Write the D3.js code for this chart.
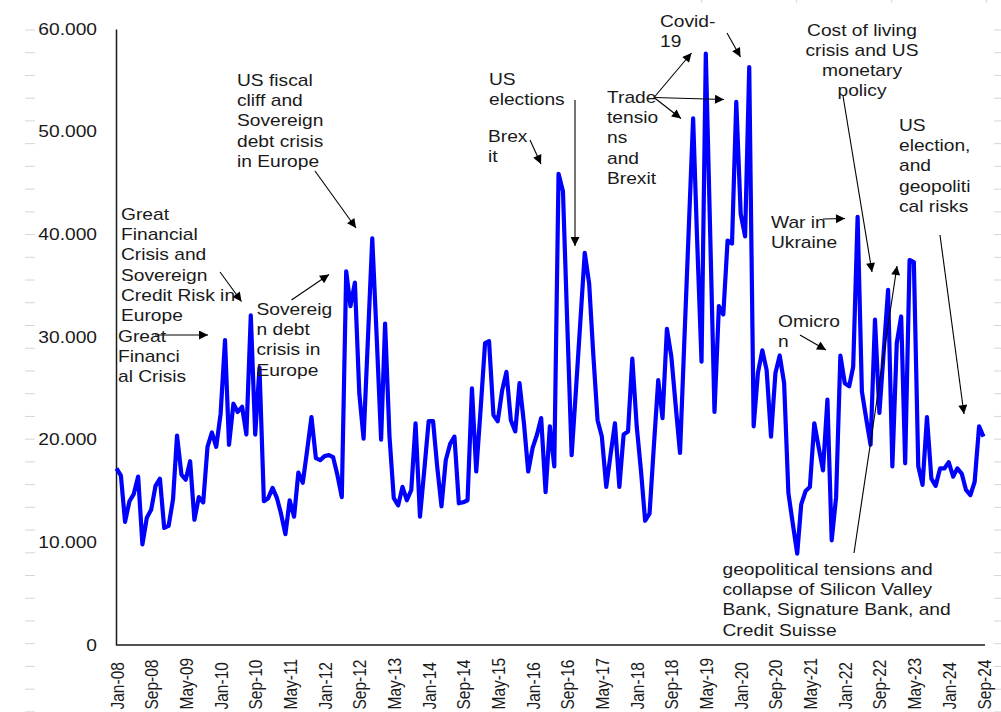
<!DOCTYPE html>
<html>
<head>
<meta charset="utf-8">
<script src="https://cdn.jsdelivr.net/npm/d3@7"></script>
<style>
  html, body { margin: 0; padding: 0; background: #fff; }
  svg { display: block; }
  text { font-family: "Liberation Sans", Arial, sans-serif; fill: #1a1a1a; }
</style>
</head>
<body>
<svg id="chart" width="1001" height="712"></svg>
<script>
// ---------- DATA ----------
const startYear = 2008, startMonth = 0; // Jan-08, monthly
const values = [
  // 2008
  17.2, 16.5, 12.0, 14.0, 14.7, 16.4, 9.8, 12.4, 13.2, 15.5, 16.2, 11.4,
  // 2009
  11.6, 14.2, 20.4, 16.6, 16.1, 17.9, 12.2, 14.4, 13.9, 19.3, 20.7, 19.3,
  // 2010
  22.5, 29.7, 19.5, 23.5, 22.7, 23.2, 20.5, 32.1, 20.5, 27.0, 14.0, 14.3,
  // 2011
  15.3, 14.3, 12.8, 10.8, 14.1, 12.5, 16.8, 15.8, 19.0, 22.2, 18.2, 18.0,
  // 2012
  18.4, 18.5, 18.3, 16.5, 14.4, 36.4, 33.0, 35.3, 24.5, 20.1, 30.0, 39.6,
  // 2013
  30.0, 20.0, 31.3, 20.3, 14.3, 13.6, 15.4, 14.1, 15.1, 21.6, 12.5, 17.0,
  // 2014
  21.8, 21.8, 17.5, 13.5, 18.0, 19.6, 20.3, 13.8, 13.9, 14.1, 25.0, 16.9,
  // 2015
  23.0, 29.4, 29.6, 22.4, 21.8, 24.8, 26.6, 21.9, 20.8, 25.5, 21.6, 16.9,
  // 2016
  19.2, 20.5, 22.1, 14.9, 21.3, 17.4, 45.9, 44.2, 31.0, 18.5, 25.0, 31.5,
  // 2017
  38.2, 35.2, 28.5, 21.9, 20.3, 15.4, 18.5, 21.6, 15.4, 20.5, 20.8, 27.9,
  // 2018
  21.3, 16.8, 12.1, 12.8, 19.3, 25.8, 22.1, 30.8, 28.1, 23.4, 18.7, 29.5,
  // 2019
  40.4, 51.3, 39.5, 27.6, 57.6, 40.0, 22.7, 33.0, 32.2, 39.4, 39.1, 52.9,
  // 2020
  42.0, 39.8, 56.3, 21.3, 26.5, 28.7, 26.8, 20.3, 26.5, 28.2, 25.5, 14.8,
  // 2021
  11.8, 8.9, 13.7, 15.0, 15.4, 21.6, 19.3, 17.0, 23.9, 10.2, 14.4, 28.2,
  // 2022
  25.5, 25.2, 27.1, 41.7, 24.7, 22.0, 19.5, 31.7, 22.6, 28.5, 34.6, 17.4,
  // 2023
  29.4, 32.0, 17.7, 37.5, 37.3, 17.4, 15.6, 22.2, 16.2, 15.5, 17.2, 17.2,
  // 2024
  17.8, 16.4, 17.2, 16.7, 15.1, 14.6, 15.9, 21.3, 20.3
];
const yTickValues = [0, 10, 20, 30, 40, 50, 60];
const yTickLabels = ["0", "10.000", "20.000", "30.000", "40.000", "50.000", "60.000"];
const xTickLabels = ["Jan-08","Sep-08","May-09","Jan-10","Sep-10","May-11","Jan-12","Sep-12",
  "May-13","Jan-14","Sep-14","May-15","Jan-16","Sep-16","May-17","Jan-18","Sep-18","May-19",
  "Jan-20","Sep-20","May-21","Jan-22","Sep-22","May-23","Jan-24","Sep-24"];
const xTickStep = 8; // months between labels

// annotations (layout, pixel space)
const annotations = [
  { lines: ["US fiscal", "cliff and", "Sovereign", "debt crisis", "in Europe"], x: 237, y: 86 },
  { lines: ["Great", "Financial", "Crisis and", "Sovereign", "Credit Risk in", "Europe"], x: 121, y: 220 },
  { lines: ["Great", "Financi", "al Crisis"], x: 118, y: 341.5 },
  { lines: ["Sovereig", "n debt", "crisis in", "Europe"], x: 256.5, y: 315 },
  { lines: ["US", "elections"], x: 489, y: 85 },
  { lines: ["Brex", "it"], x: 488, y: 142 },
  { lines: ["Trade", "tensio", "ns", "and", "Brexit"], x: 607, y: 103 },
  { lines: ["Covid-", "19"], x: 660, y: 26.5 },
  { lines: ["Cost of living", "crisis and US", "monetary", "policy"], x: 862, y: 35.7, anchor: "middle" },
  { lines: ["US", "election,", "and", "geopoliti", "cal risks"], x: 899, y: 131 },
  { lines: ["War in", "Ukraine"], x: 771, y: 228.3 },
  { lines: ["Omicro", "n"], x: 778, y: 327.3 },
  { lines: ["geopolitical tensions and", "collapse of Silicon Valley", "Bank, Signature Bank, and", "Credit Suisse"], x: 722.5, y: 575 }
];
const arrows = [
  [315, 171, 356, 228],
  [220, 272, 241.5, 301.5],
  [155, 335, 208, 335],
  [291.5, 300, 329, 274.5],
  [575, 100, 575, 246],
  [530, 140, 541, 164],
  [654, 97.5, 691.5, 53],
  [654, 97.5, 724, 99.5],
  [654, 97.5, 681, 118.5],
  [727, 33, 740.5, 57],
  [843, 96, 872, 272],
  [940, 235, 964, 414],
  [823, 219, 845, 218.5],
  [800, 335, 826, 350],
  [854, 553, 897, 266]
];

// ---------- CHART ----------
const svg = d3.select("#chart");
const dates = values.map((v, i) => new Date(Date.UTC(startYear, startMonth + i, 1)));
const x = d3.scaleUtc().domain([dates[0], dates[dates.length - 1]]).range([116.5, 983.5]);
const y = d3.scaleLinear().domain([0, 60]).range([645, 29]);

// faint decorative dashes (background artefacts of the original)
const deco = svg.append("g").attr("stroke", "#d6d6d6").attr("stroke-width", 1);
for (let yy = 30; yy < 712; yy += 22.73) {
  deco.append("line").attr("x1", 25).attr("x2", 35).attr("y1", yy).attr("y2", yy);
  deco.append("line").attr("x1", 994).attr("x2", 1001).attr("y1", yy).attr("y2", yy);
}
[701.7, 796.7, 891.7, 986.7].forEach(xx =>
  deco.append("line").attr("x1", xx).attr("x2", xx).attr("y1", 0).attr("y2", 3));

// y axis
const yAxis = svg.append("g").attr("transform", "translate(116,0)")
  .call(d3.axisLeft(y).tickValues(yTickValues).tickSize(0)
    .tickFormat((d, i) => yTickLabels[i]));
yAxis.select(".domain").attr("stroke", "#1a1a1a").attr("stroke-width", 1.5);
yAxis.selectAll("text")
  .attr("x", null)
  .attr("transform", "translate(-19,0) scale(1.2,1)")
  .attr("font-size", 16)
  .attr("font-family", "Liberation Sans, Arial, sans-serif")
  .attr("fill", "#1a1a1a");

// x axis
const xTicks = xTickLabels.map((l, i) => dates[i * xTickStep]);
const xAxis = svg.append("g").attr("transform", "translate(0,645)")
  .call(d3.axisBottom(x).tickValues(xTicks).tickSize(0)
    .tickFormat((d, i) => xTickLabels[i]));
xAxis.select(".domain").attr("stroke", "#1a1a1a").attr("stroke-width", 1.5)
  .attr("d", "M116.5,0H985");
xAxis.selectAll("text")
  .attr("y", null).attr("dy", "0.35em")
  .attr("text-anchor", "start")
  .attr("transform", "translate(0,64.5) scale(1.2,1) rotate(-90)")
  .attr("font-size", 15.5)
  .attr("font-family", "Liberation Sans, Arial, sans-serif")
  .attr("fill", "#1a1a1a");

// line
const line = d3.line().x((d, i) => x(dates[i])).y(d => y(d));
svg.append("path").datum(values)
  .attr("d", line)
  .attr("fill", "none")
  .attr("stroke", "#0000ff")
  .attr("stroke-width", 4.2)
  .attr("stroke-linejoin", "round");

// arrows
const defs = svg.append("defs");
defs.append("marker").attr("id", "ah")
  .attr("viewBox", "0 0 10 10").attr("refX", 10).attr("refY", 5)
  .attr("markerUnits", "userSpaceOnUse")
  .attr("markerWidth", 11).attr("markerHeight", 9)
  .attr("orient", "auto")
  .append("path").attr("d", "M0,0L10,5L0,10Z").attr("fill", "#000");
svg.append("g").selectAll("line").data(arrows).join("line")
  .attr("x1", d => d[0]).attr("y1", d => d[1])
  .attr("x2", d => d[2]).attr("y2", d => d[3])
  .attr("stroke", "#000").attr("stroke-width", 1.1)
  .attr("marker-end", "url(#ah)");

// annotation text
const ann = svg.append("g");
annotations.forEach(a => {
  const t = ann.append("text")
    .attr("transform", `translate(${a.x},${a.y}) scale(1.2,1)`)
    .attr("font-size", 16)
    .attr("text-anchor", a.anchor || "start");
  a.lines.forEach((l, i) => t.append("tspan").attr("x", 0).attr("y", i * 20.2).text(l));
});
</script>
</body>
</html>
